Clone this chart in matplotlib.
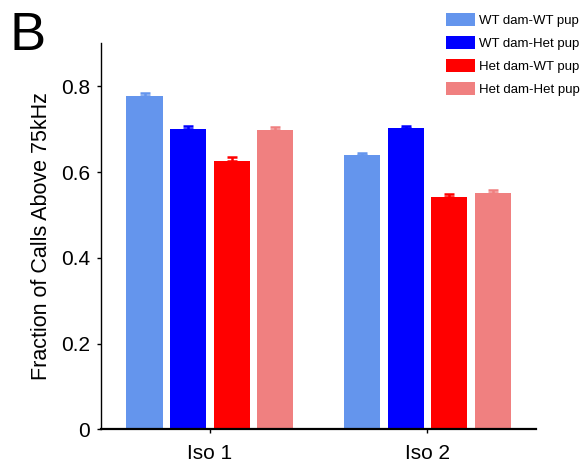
import numpy as np
import matplotlib
matplotlib.use('Agg')
import matplotlib.pyplot as plt
from matplotlib.patches import Patch

plt.rcParams['font.family'] = ['Liberation Sans', 'DejaVu Sans']

# group labels and the four dam/pup genotype series
categories = ['Iso 1', 'Iso 2']
series_names = ['WT dam-WT pup', 'WT dam-Het pup', 'Het dam-WT pup', 'Het dam-Het pup']
series_colors = ['#6495ED', '#0000FF', '#FF0000', '#F08080']

wt_wt = [0.778, 0.639]
wt_het = [0.701, 0.702]
het_wt = [0.626, 0.541]
het_het = [0.698, 0.552]

wt_wt_err = [0.006, 0.005]
wt_het_err = [0.007, 0.006]
het_wt_err = [0.010, 0.008]
het_het_err = [0.007, 0.006]

yticks = [0, 0.2, 0.4, 0.6, 0.8]
ytick_labels = ['0', '0.2', '0.4', '0.6', '0.8']

means = [wt_wt, wt_het, het_wt, het_het]
errs = [wt_wt_err, wt_het_err, het_wt_err, het_het_err]

fig = plt.figure(figsize=(5.84, 4.69), dpi=100)
ax = fig.add_axes([0.173, 0.0845, 0.745, 0.823])

x = np.arange(1, len(categories) + 1)
pitch = 0.2
width = 0.166
for i, (m, e, c) in enumerate(zip(means, errs, series_colors)):
    pos = x + (i - 1.5) * pitch
    ax.bar(pos, m, width=width, color=c, zorder=2)
    ax.errorbar(pos, m, yerr=[np.zeros(len(e)), e], fmt='none', ecolor=c,
                elinewidth=1.8, capsize=3.6, capthick=1.8, zorder=3)

ax.set_xlim(0.5, 2.5)
ax.set_ylim(0, 0.9)
ax.set_xticks(x)
ax.set_xticklabels(categories)
ax.set_yticks(yticks)
ax.set_yticklabels(ytick_labels)
ax.tick_params(axis='both', labelsize=15, length=3, width=1, direction='out')
ax.tick_params(axis='x', pad=7.5)
ax.tick_params(axis='y', pad=5)
ax.spines['top'].set_visible(False)
ax.spines['right'].set_visible(False)
ax.spines['left'].set_linewidth(1.0)
ax.spines['bottom'].set_linewidth(1.6)
ax.set_ylabel('Fraction of Calls Above 75kHz', fontsize=15.5, labelpad=6.5)

handles = [Patch(facecolor=c, edgecolor='none') for c in series_colors]
fig.legend(handles, series_names, loc='upper left', bbox_to_anchor=(0.764, 0.972),
           frameon=False, fontsize=9.5, handlelength=2.2, handleheight=1.15,
           labelspacing=0.68, handletextpad=0.3, borderpad=0, borderaxespad=0)

fig.text(0.016, 0.893, 'B', fontsize=39, va='baseline', ha='left')

fig.savefig('out.png', dpi=100)
